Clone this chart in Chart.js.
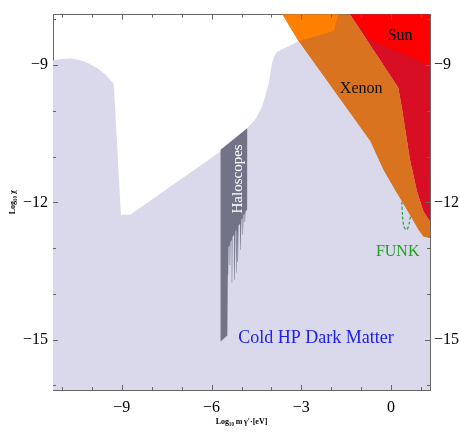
<!DOCTYPE html>
<html><head><meta charset="utf-8">
<script src="https://cdn.jsdelivr.net/npm/chart.js@4.4.1/dist/chart.umd.min.js"></script>
<style>html,body{margin:0;padding:0;background:#fff}</style>
</head><body>
<canvas id="c" width="460" height="433"></canvas>
<script>
// ---- axis limits and ticks ----
const xLimits = [-11.3, 1.3];
const yLimits = [-16.1, -7.9];
const xMajorTicks = [-9, -6, -3, 0];
const yMajorTicks = [-15, -12, -9];

// ---- regions (log10 m [eV], log10 chi) ----
const coldHPDarkMatter = [
  [-11.3,-16.1],[-11.3,-8.90],[-11.0,-8.87],[-10.7,-8.86],[-10.4,-8.89],[-10.1,-8.97],
  [-9.8,-9.08],[-9.55,-9.21],[-9.27,-9.41],[-9.03,-12.27],[-8.72,-12.27],[-5.37,-10.74],
  [-4.81,-10.38],[-4.53,-10.18],[-4.31,-9.91],[-4.09,-9.40],[-3.98,-8.96],[-3.90,-8.80],
  [-3.81,-8.71],[-3.09,-8.48],[-1.81,-9.65],[-0.70,-10.66],[-0.26,-11.29],[0.13,-11.73],
  [0.52,-12.16],[0.91,-12.60],[1.08,-12.75],[1.3,-12.79],[1.3,-16.1]
];
const haloscopes = [
  [-5.70,-10.85],[-4.81,-10.38],[-4.81,-12.16],[-4.867,-12.21],
  [-4.88,-12.43],[-4.895,-12.43],[-4.90,-12.25],[-4.933,-12.27],
  [-4.95,-12.71],[-4.965,-12.71],[-4.97,-12.34],[-5.00,-12.38],
  [-5.033,-13.04],[-5.045,-13.04],[-5.05,-12.47],[-5.10,-12.51],
  [-5.117,-13.30],[-5.13,-13.30],[-5.135,-12.56],[-5.15,-12.58],
  [-5.16,-13.54],[-5.172,-13.54],[-5.178,-12.60],[-5.20,-12.64],
  [-5.23,-13.69],[-5.245,-13.69],[-5.25,-12.71],[-5.30,-12.76],
  [-5.31,-13.76],[-5.322,-13.76],[-5.328,-12.82],[-5.367,-12.87],
  [-5.38,-13.37],[-5.392,-13.37],[-5.398,-12.93],[-5.433,-12.98],
  [-5.445,-13.58],[-5.457,-13.58],[-5.462,-13.04],[-5.48,-13.06],
  [-5.48,-14.91],[-5.70,-15.04]
];
const funk = [
  [0.35,-11.88],[0.37,-12.15],[0.40,-12.42],[0.45,-12.56],[0.52,-12.60],[0.58,-12.52],
  [0.63,-12.37],[0.67,-12.20]
];
const xenon = [
  [-3.70,-7.82],[-3.09,-8.48],[-1.81,-9.65],[-0.70,-10.66],[-0.26,-11.29],[0.13,-11.73],
  [0.52,-12.16],[0.91,-12.60],[1.08,-12.75],[1.4,-12.80],[1.4,-12.42],[1.3,-12.42],
  [1.08,-12.20],[0.86,-11.75],[0.63,-11.07],[0.36,-9.94],[0.24,-9.50],[-1.45,-7.82]
];
const xenonUpper = [
  [-3.70,-7.82],[-3.09,-8.48],[-1.92,-8.26],[-1.76,-7.88],[-1.74,-7.80]
];
const crimsonBand = [
  [-1.45,-7.82],[0.24,-9.50],[0.36,-9.94],[0.63,-11.07],[0.86,-11.75],[1.08,-12.20],
  [1.3,-12.42],[1.4,-12.42],[1.4,-7.80]
];
const sun = [
  [-1.45,-7.82],[-0.70,-8.45],[1.3,-9.01],[1.4,-9.05],[1.4,-7.80]
];

// ---- labels ----
const labelTexts = ['Sun','Xenon','FUNK','Cold HP Dark Matter','Haloscopes'];
const labelX = [0.30, -1.00, 0.22, -2.51, -5.10];
const labelY = [-8.36, -9.52, -13.08, -14.98, -11.49];
const labelColors = ['#000000','#111111','#22a022','#2020ee','#ffffff'];
const labelRot = [0, 0, 0, 0, -90];
const labelSize = [16, 16, 16, 18, 15];

const toPts = arr => arr.map(p => ({x: p[0], y: p[1]}));
const fmt = v => (v < 0 ? '\u2212' + Math.abs(v) : String(v));
const isMajor = (v, list) => Math.abs(v - Math.round(v)) < 1e-6 && list.includes(Math.round(v));
const serif = "'Liberation Serif', 'DejaVu Serif', serif";

function region(data, color) {
  return {type: 'line', data: toPts(data), backgroundColor: color, borderColor: 'rgba(0,0,0,0)',
          borderWidth: 0, pointRadius: 0, fill: 'shape', tension: 0};
}

const innerTicks = {
  id: 'innerTicks',
  afterDraw(chart) {
    const {ctx, chartArea: a, scales: {x, y}} = chart;
    ctx.save();
    ctx.strokeStyle = '#666'; ctx.lineWidth = 1;
    const seg = (x1, y1, x2, y2) => { ctx.beginPath(); ctx.moveTo(x1, y1); ctx.lineTo(x2, y2); ctx.stroke(); };
    for (let v = Math.ceil(x.min); v <= Math.floor(x.max); v++) {
      const p = Math.round(x.getPixelForValue(v)) + 0.5;
      const L = xMajorTicks.includes(v) ? 5 : 3;
      seg(p, a.bottom, p, a.bottom - L);
      seg(p, a.top, p, a.top + L);
    }
    for (let v = Math.ceil(y.min); v <= Math.floor(y.max); v++) {
      const p = Math.round(y.getPixelForValue(v)) + 0.5;
      const L = yMajorTicks.includes(v) ? 5 : 3;
      seg(a.left, p, a.left + L, p);
      seg(a.right, p, a.right - L, p);
    }
    ctx.restore();
  }
};

const textLabels = {
  id: 'textLabels',
  afterDatasetsDraw(chart) {
    const {ctx, scales: {x, y}} = chart;
    ctx.save();
    labelTexts.forEach((t, i) => {
      const px = x.getPixelForValue(labelX[i]);
      const py = y.getPixelForValue(labelY[i]);
      ctx.save();
      ctx.translate(px, py);
      ctx.rotate(labelRot[i] * Math.PI / 180);
      ctx.font = labelSize[i] + 'px ' + serif;
      ctx.fillStyle = labelColors[i];
      ctx.textAlign = 'center';
      ctx.textBaseline = 'middle';
      ctx.fillText(t, 0, 0);
      ctx.restore();
    });
    ctx.restore();
  }
};

const tickFont = {family: serif, size: 16};

// Chart.js paints the first dataset on top, so the list runs from top layer to bottom layer.
new Chart(document.getElementById('c'), {
  type: 'line',
  data: {
    datasets: [
      region(sun, '#ff0000'),
      region(crimsonBand, '#d80e24'),
      region(xenonUpper, '#ff8000'),
      region(xenon, '#d97320'),
      {type: 'line', data: toPts(funk), borderColor: '#2a9a3a', borderWidth: 1.2, borderDash: [3, 2],
       pointRadius: 0, fill: false, tension: 0.4},
      region(haloscopes, '#737388'),
      region(coldHPDarkMatter, '#d9d9eb')
    ]
  },
  options: {
    responsive: false,
    animation: false,
    layout: {padding: 0},
    plugins: {legend: {display: false}, tooltip: {enabled: false}},
    scales: {
      x: {
        type: 'linear', position: 'bottom', min: xLimits[0], max: xLimits[1], z: 1,
        grid: {display: false, drawTicks: false},
        border: {display: true, color: '#666', width: 1},
        ticks: {stepSize: 1, autoSkip: false, maxRotation: 0, padding: 8, color: '#000', font: tickFont,
                callback: v => isMajor(v, xMajorTicks) ? fmt(Math.round(v)) : ''},
        title: {display: true, text: 'Log\u2081\u2080 m\u2009\u03b3\u2032\u00b7[eV]', color: '#000',
                font: {family: serif, size: 8, weight: 'bold'}, padding: {top: 0, bottom: 6}},
        afterFit: s => { s.height = 43; }
      },
      x2: {
        type: 'linear', position: 'top', min: xLimits[0], max: xLimits[1], z: 1,
        grid: {display: false, drawTicks: false},
        border: {display: true, color: '#666', width: 1},
        ticks: {display: false},
        afterFit: s => { s.height = 14; }
      },
      y: {
        type: 'linear', position: 'left', min: yLimits[0], max: yLimits[1], z: 1,
        grid: {display: false, drawTicks: false},
        border: {display: true, color: '#666', width: 1},
        ticks: {stepSize: 1, autoSkip: false, padding: 5, color: '#000', font: tickFont,
                callback: v => isMajor(v, yMajorTicks) ? fmt(Math.round(v)) : ''},
        title: {display: true, text: 'Log\u2081\u2080 \u03c7', color: '#000',
                font: {family: serif, size: 8, weight: 'bold'}, padding: {top: 8, bottom: 0}},
        afterFit: s => { s.width = 53; }
      },
      y2: {
        type: 'linear', position: 'right', min: yLimits[0], max: yLimits[1], z: 1,
        grid: {display: false, drawTicks: false},
        border: {display: true, color: '#666', width: 1},
        ticks: {stepSize: 1, autoSkip: false, padding: 4, color: '#000', font: tickFont,
                callback: v => isMajor(v, yMajorTicks) ? fmt(Math.round(v)) : ''},
        afterFit: s => { s.width = 30; }
      }
    }
  },
  plugins: [textLabels, innerTicks]
});
</script>
</body></html>
